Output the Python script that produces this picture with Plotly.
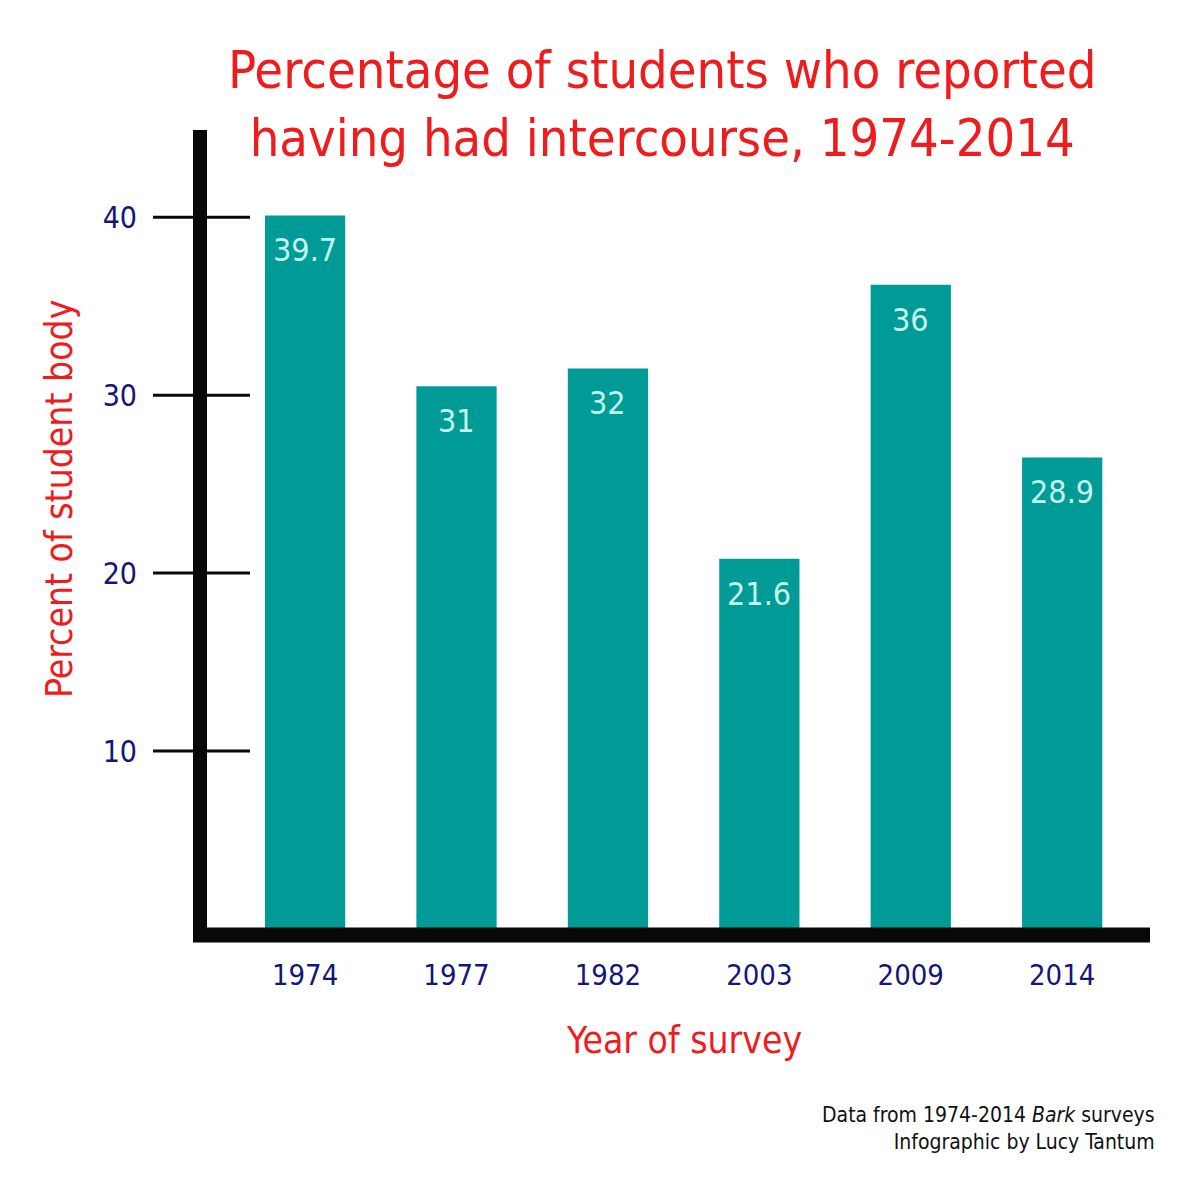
import plotly.graph_objects as go

years = ["1974", "1977", "1982", "2003", "2009", "2014"]
bar_heights = [40.1, 30.5, 31.5, 20.8, 36.2, 26.5]   # bar heights as drawn
bar_labels = ["39.7", "31", "32", "21.6", "36", "28.9"]  # printed values
y_ticks = [10, 20, 30, 40]

FONT = "Liberation Sans Narrow, DejaVu Sans Condensed, Roboto, sans-serif"
RED = "#ee1c1c"
NAVY = "#15157a"
TEAL = "#009b97"

# plot area in pixels: x 200..1150, y 130..935
PL, PR, PT, PB = 200, 1150, 130, 935
def px(x):
    return (x - PL) / (PR - PL)
def py(y):
    return (PB - y) / (PB - PT)

fig = go.Figure(go.Bar(
    x=years, y=bar_heights,
    marker=dict(color=TEAL, line=dict(width=0)),
    width=0.53,
    hoverinfo="skip",
))

shapes = []
shapes.append(dict(type="line", xref="paper", yref="paper", x0=0, x1=0,
                   y0=py(942), y1=1, line=dict(color="#080808", width=14)))
shapes.append(dict(type="line", xref="paper", yref="paper", x0=px(193), x1=1,
                   y0=0, y1=0, line=dict(color="#080808", width=15)))
for t in y_ticks:
    shapes.append(dict(type="line", xref="paper", yref="y", x0=px(153), x1=px(250),
                       y0=t, y1=t, line=dict(color="#080808", width=3)))

annotations = [
    dict(text="Percentage of students who reported<br>having had intercourse, 1974-2014",
         xref="paper", yref="paper", x=px(662), y=py(104), xanchor="center", yanchor="middle",
         showarrow=False, font=dict(family=FONT, size=52, color=RED)),
    dict(text="Percent of student body", textangle=-90,
         xref="paper", yref="paper", x=px(60), y=py(499), xanchor="center", yanchor="middle",
         showarrow=False, font=dict(family=FONT, size=37, color=RED)),
    dict(text="Year of survey",
         xref="paper", yref="paper", x=px(684), y=py(1040), xanchor="center", yanchor="middle",
         showarrow=False, font=dict(family=FONT, size=37, color=RED)),
    dict(text="Data from 1974-2014 <i>Bark</i> surveys<br>Infographic by Lucy Tantum",
         xref="paper", yref="paper", x=px(1157), y=py(1128), xanchor="right", yanchor="middle",
         align="right", showarrow=False,
         font=dict(family=FONT, size=21, color="#111111")),
]
for i, (h, lab) in enumerate(zip(bar_heights, bar_labels)):
    annotations.append(dict(text=lab, x=i, y=h, xref="x", yref="y",
                            xanchor="center", yanchor="top", yshift=-14,
                            showarrow=False,
                            font=dict(family=FONT, size=32, color="#c2f7ea")))

fig.update_layout(
    width=1200, height=1200,
    paper_bgcolor="white", plot_bgcolor="white",
    margin=dict(l=PL, r=1200 - PR, t=PT, b=1200 - PB),
    showlegend=False,
    shapes=shapes,
    annotations=annotations,
    font=dict(family=FONT),
    xaxis=dict(type="category", range=[-0.694, 5.58], showgrid=False, showline=False, zeroline=False,
               ticks="", tickfont=dict(family=FONT, size=29, color=NAVY),
               ticklabelstandoff=20),
    yaxis=dict(range=[-0.34, 44.9], showgrid=False, showline=False, zeroline=False,
               tickvals=y_ticks, ticktext=[str(t) for t in y_ticks], ticks="",
               tickfont=dict(family=FONT, size=30, color=NAVY),
               ticklabelstandoff=62),
)

fig.write_html("out.html")
